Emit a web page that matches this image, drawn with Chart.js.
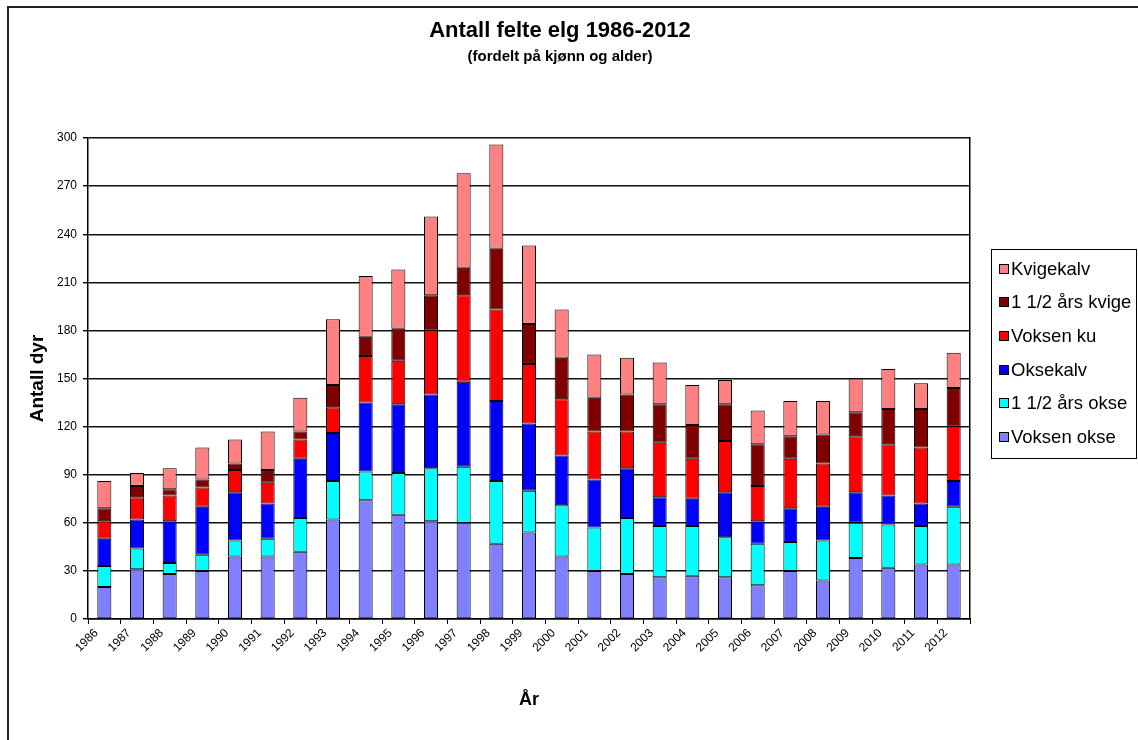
<!DOCTYPE html>
<html>
<head>
<meta charset="utf-8">
<script src="https://cdn.jsdelivr.net/npm/chart.js@4.4.0/dist/chart.umd.min.js"></script>
<style>
html,body{margin:0;padding:0;background:#fff;}
#wrap{width:1138px;height:740px;position:relative;}
</style>
</head>
<body>
<div id="wrap"><canvas id="c" width="1138" height="740"></canvas></div>
<script>
const years = ['1986','1987','1988','1989','1990','1991','1992','1993','1994','1995','1996','1997','1998','1999','2000','2001','2002','2003','2004','2005','2006','2007','2008','2009','2010','2011','2012'];
const voksenOkse     = [20,31,28,30,39,39,42,62,74,65,61,60,47,54,39,30,28,26,27,26,21,30,24,38,32,34,34];
const halvannenOkse  = [13,13,7,10,10,11,21,24,18,26,33,35,39,26,32,27,35,32,31,25,26,18,25,22,27,24,36];
const oksekalv       = [17,18,26,30,30,22,37,30,43,43,46,53,50,42,31,30,31,18,17,28,14,21,21,19,18,14,16];
const voksenKu       = [11,14,16,12,14,13,12,16,29,27,40,54,57,37,35,30,23,34,25,32,22,31,27,35,32,35,34];
const halvannenKvige = [8,7,4,5,4,8,5,14,12,20,22,17,38,25,26,21,23,24,21,23,26,14,18,15,22,24,24];
const kvigekalv      = [17,8,13,20,15,24,21,41,38,37,49,59,65,49,30,27,23,26,25,15,21,22,21,21,25,16,22];
const seriesNames = ['Voksen okse','1 1/2 års okse','Oksekalv','Voksen ku','1 1/2 års kvige','Kvigekalv'];
const seriesColors = ['#8080FF','#00FFFF','#0000FF','#FF0000','#800000','#FF8080'];
const seriesData = [voksenOkse, halvannenOkse, oksekalv, voksenKu, halvannenKvige, kvigekalv];

const FONT = "'Liberation Sans', Arial, sans-serif";

const frame = {
  id: 'frame',
  beforeDraw(chart) {
    const ctx = chart.ctx;
    ctx.save();
    ctx.fillStyle = '#fff';
    ctx.fillRect(0, 0, chart.width, chart.height);
    ctx.strokeStyle = '#222';
    ctx.lineWidth = 2;
    ctx.strokeRect(8, 7, 1300, 900);
    ctx.restore();
  },
  afterDraw(chart) {
    const ctx = chart.ctx;
    const x0 = 991, y0 = 249, w = 146, h = 210;
    ctx.save();
    ctx.fillStyle = '#fff';
    ctx.fillRect(x0, y0, w, h);
    ctx.strokeStyle = '#000';
    ctx.lineWidth = 1;
    ctx.strokeRect(x0 + 0.5, y0 + 0.5, w - 1, h - 1);
    const ds = chart.data.datasets.slice().reverse();
    ctx.font = '18.5px ' + FONT;
    ctx.textBaseline = 'middle';
    ctx.textAlign = 'left';
    ds.forEach((d, i) => {
      const cy = 268.5 + i * 33.7;
      ctx.fillStyle = d.backgroundColor;
      ctx.fillRect(999, Math.round(cy - 5), 9, 9);
      ctx.strokeStyle = '#000';
      ctx.strokeRect(999.5, Math.round(cy - 5) + 0.5, 9, 9);
      ctx.fillStyle = '#000';
      ctx.fillText(d.label, 1011, cy + 1);
    });
    ctx.restore();
  }
};

new Chart(document.getElementById('c'), {
  type: 'bar',
  data: {
    labels: years,
    datasets: seriesNames.map((n, i) => ({
      label: n,
      data: seriesData[i],
      backgroundColor: seriesColors[i],
      borderColor: '#000',
      borderWidth: 1,
      borderSkipped: false,
      categoryPercentage: 1,
      barPercentage: 0.43
    }))
  },
  options: {
    responsive: false,
    animation: false,
    layout: { padding: { left: 0, right: 18, top: 0, bottom: 0 } },
    plugins: {
      legend: { display: false },
      tooltip: { enabled: false },
      title: {
        display: true,
        text: 'Antall felte elg 1986-2012',
        color: '#000',
        font: { family: FONT, size: 22, weight: 'bold' },
        padding: { top: 18, bottom: 0 }
      },
      subtitle: {
        display: true,
        text: '(fordelt på kjønn og alder)',
        color: '#000',
        font: { family: FONT, size: 15, weight: 'bold' },
        padding: { top: 3, bottom: 72.6 }
      }
    },
    scales: {
      x: {
        stacked: true,
        offset: true,
        grid: { display: true, drawOnChartArea: false, drawTicks: true, tickLength: 5, tickColor: '#000', offset: true },
        border: { display: true, color: '#000', width: 1.5 },
        ticks: {
          color: '#000', font: { family: FONT, size: 12 },
          autoSkip: false, minRotation: 45, maxRotation: 45, padding: 2, labelOffset: -8
        },
        title: {
          display: true, text: 'År', color: '#000',
          font: { family: FONT, size: 18, weight: 'bold' },
          padding: { top: 0, bottom: 29 }
        },
        afterFit(s) { s.height = 121; }
      },
      y: {
        stacked: true,
        min: 0, max: 300,
        ticks: { stepSize: 30, color: '#000', font: { family: FONT, size: 12 }, padding: 6 },
        grid: { color: '#111', lineWidth: 1.4, drawTicks: true, tickLength: 5, tickColor: '#000' },
        border: { display: true, color: '#000', width: 1.5 },
        title: {
          display: true, text: 'Antall dyr', color: '#000',
          font: { family: FONT, size: 19, weight: 'bold' },
          padding: { top: 26, bottom: 0 }
        },
        afterFit(s) { s.width = 88; }
      },
      yR: {
        position: 'right',
        display: true,
        min: 0, max: 300,
        grid: { display: false, drawTicks: false },
        ticks: { display: false },
        border: { display: true, color: '#000', width: 1.5 },
        afterFit(s) { s.width = 150; }
      }
    }
  },
  plugins: [frame]
});
</script>
</body>
</html>
